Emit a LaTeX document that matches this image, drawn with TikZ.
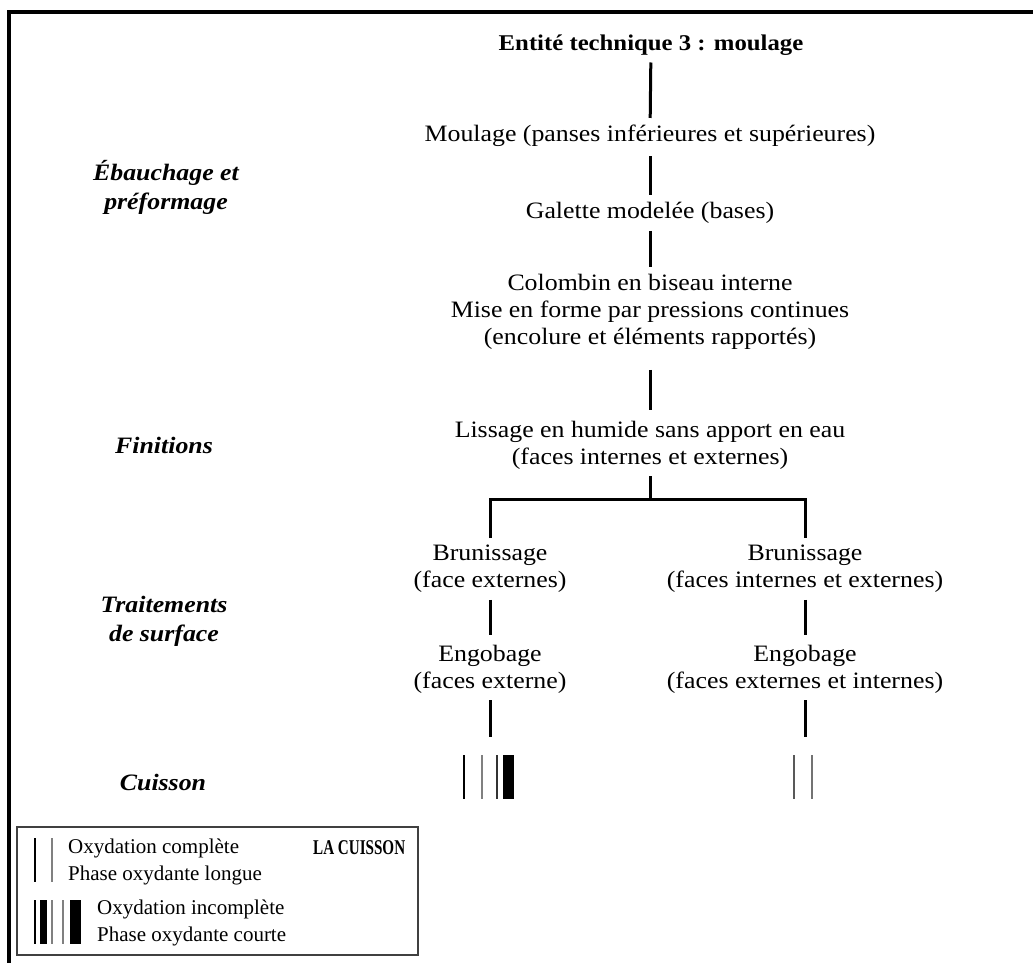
\documentclass[tikz,border=0pt]{standalone}
\usepackage{fontspec}
\setmainfont{Liberation Serif}
\newfontfamily\etapefont{Liberation Serif}[FakeStretch=1.1]
\usetikzlibrary{positioning}

\tikzset{
  etape/.style={align=center, inner sep=0pt, font=\etapefont\fontsize{23.5}{27}\selectfont},
  phase/.style={align=center, inner sep=0pt, font=\etapefont\fontsize{23.5}{29}\selectfont\bfseries\itshape},
  legende/.style={align=left, anchor=west, inner sep=0pt, font=\fontsize{21}{27}\selectfont},
  lien/.style={line width=3pt, shorten <=7pt, shorten >=7pt},
  trait/.style={line width=1.6pt},
}

\begin{document}
\begin{tikzpicture}[x=1pt, y=-1pt]
  \useasboundingbox (0,0) rectangle (1033,963);
  % Frame (only top and left edges are visible)
  \draw[line width=3.5pt] (9,963) -- (9,12) -- (1033,12);

  % Main chain of operations
  \node[etape, font=\etapefont\fontsize{22.5}{27}\selectfont\bfseries] (titre) at (651,45) {Entité technique 3 : moulage};
  \node[etape] (moulage) at (650,136) {Moulage (panses inférieures et supérieures)};
  \node[etape] (galette) at (650,213) {Galette modelée (bases)};
  \node[etape] (colombin) at (650,312) {Colombin en biseau interne\\Mise en forme par pressions continues\\(encolure et éléments rapportés)};
  \node[etape] (lissage) at (650,445) {Lissage en humide sans apport en eau\\(faces internes et externes)};
  \node[etape] (brunL) at (490,569) {Brunissage\\(face externes)};
  \node[etape] (brunR) at (805,569) {Brunissage\\(faces internes et externes)};
  \node[etape] (engL) at (490,669) {Engobage\\(faces externe)};
  \node[etape] (engR) at (805,669) {Engobage\\(faces externes et internes)};
  \coordinate (fourche) at (650,499);
  \coordinate (cuisL) at (490,755);
  \coordinate (cuisR) at (805,755);

  \draw[lien] (titre) -- (moulage);
  \draw[lien, shorten <=9pt] (moulage) -- (galette);
  \draw[lien] (galette) -- (colombin);
  \draw[lien, shorten <=20pt, shorten >=11pt] (colombin) -- (lissage);
  \draw[lien, shorten >=-1.5pt] (lissage) -- (fourche);
  \draw[lien, line join=miter] (brunL) |- (fourche) -| (brunR);
  \draw[lien, shorten >=10pt] (brunL) -- (engL);
  \draw[lien, shorten >=10pt] (brunR) -- (engR);
  \draw[lien, shorten >=18pt] (engL) -- (cuisL);
  \draw[lien, shorten >=18pt] (engR) -- (cuisR);

  % Phase labels on the left
  \node[phase] (ebauchage) at (166,187) {Ébauchage et\\préformage};
  \node[phase] (finitions) at (164,445) {Finitions};
  \node[phase] (traitements) at (164,621) {Traitements\\de surface};
  \node[phase] (cuisson) at (163,782) {Cuisson};

  % Firing marks
  \draw[trait] (464,755) -- (464,799);
  \draw[trait, gray] (482,755) -- (482,799);
  \draw[trait, black!80] (497,755) -- (497,799);
  \fill (503,755) rectangle (514,799);
  \draw[trait, black!65] (794,755) -- (794,799);
  \draw[trait, black!55] (812,755) -- (812,799);

  % Legend
  \draw[line width=1.2pt, black!75] (17,827) rectangle (418,955);
  \draw[trait] (35,838) -- (35,882);
  \draw[trait, gray] (52,838) -- (52,882);
  \node[legende] (complete) at (68,862) {Oxydation complète\\Phase oxydante longue};
  \node[legende, font=\fontsize{21}{27}\selectfont\bfseries\addfontfeature{FakeStretch=0.72}] (lacuisson) at (313,848) {LA CUISSON};
  \draw[trait] (35,900) -- (35,944);
  \fill (40,900) rectangle (47,944);
  \draw[trait, gray] (52,900) -- (52,944);
  \draw[trait, gray] (63,900) -- (63,944);
  \fill (70,900) rectangle (81,944);
  \node[legende] (incomplete) at (97,923) {Oxydation incomplète\\Phase oxydante courte};
\end{tikzpicture}
\end{document}
